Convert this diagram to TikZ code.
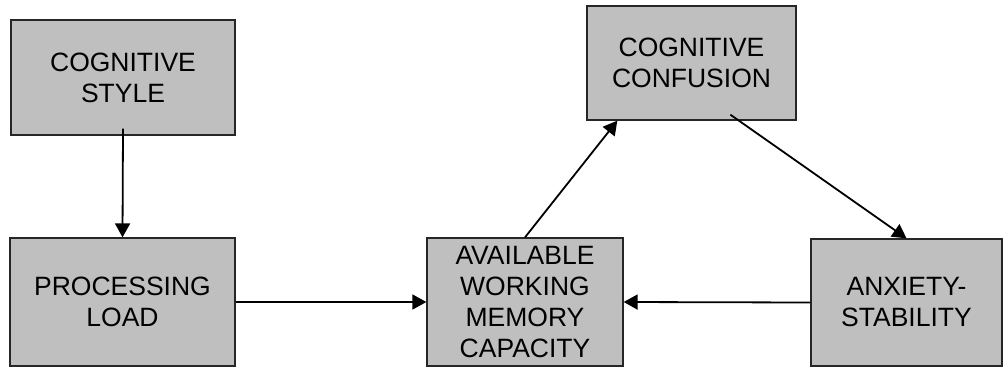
\documentclass[tikz,border=0pt]{standalone}
\usepackage{fontspec}
\setmainfont{Liberation Sans}
\usetikzlibrary{arrows.meta}

\tikzset{
	factor/.style={draw=black!85, fill=black!25, line width=1.3pt, align=center,
		inner sep=0pt, font=\fontsize{26.5}{31}\selectfont},
	link/.style={line width=1.8pt, -{Triangle[length=14pt,width=15pt]}}
}

\begin{document}
\begin{tikzpicture}[x=1pt,y=-1pt]
	\useasboundingbox (0,0) rectangle (1003,367);
	\node[factor, minimum width=224pt, minimum height=115pt] (style) at (123,77.5) {COGNITIVE\\STYLE};
	\node[factor, minimum width=225pt, minimum height=128pt] (load) at (122.5,302) {PROCESSING\\LOAD};
	\node[factor, minimum width=196pt, minimum height=128pt] (memory) at (525,302) {AVAILABLE\\WORKING\\MEMORY\\CAPACITY};
	\node[factor, minimum width=209pt, minimum height=114pt] (confusion) at (691.5,63) {COGNITIVE\\CONFUSION};
	\node[factor, minimum width=191pt, minimum height=127pt] (anxiety) at (906.5,302.5) {ANXIETY-\\STABILITY};
	% links between the factors
	\draw[link] ([yshift=7pt]style.south) -- (load.north);
	\draw[link] (load.east) -- (memory.west);
	\draw[link] (anxiety.west) -- (memory.east);
	\draw[link] (memory.north) -- ([xshift=31pt]confusion.south west);
	\draw[link] ([xshift=144pt,yshift=6pt]confusion.south west) -- (anxiety.north);
\end{tikzpicture}
\end{document}
